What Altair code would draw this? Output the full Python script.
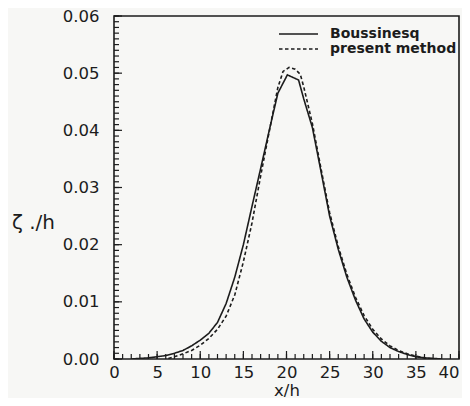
import altair as alt
import pandas as pd

# Boussinesq (solid)
x_bous = [2, 3, 4, 5, 6, 7, 8, 9, 10, 11, 12, 13, 14, 15, 16, 17, 18, 19, 20.1, 21.4, 22, 23, 24, 25,
          26, 27, 28, 29, 30, 31, 32, 33, 34, 35, 36, 37, 38]
y_bous = [0.0000, 0.0001, 0.0002, 0.0004, 0.0006, 0.0010, 0.0015, 0.0023, 0.0033, 0.0045, 0.0064,
          0.0097, 0.0143, 0.0200, 0.0267, 0.0333, 0.0400, 0.0465, 0.0497, 0.0488, 0.0455, 0.0405,
          0.0328, 0.0250, 0.0192, 0.0143, 0.0103, 0.0070, 0.0047, 0.0031, 0.0020, 0.0013, 0.0008,
          0.0004, 0.0002, 0.0001, 0.0000]

# present method (dashed)
x_pres = [6.3, 7, 8, 9, 10, 11, 12, 13, 14, 15, 16, 17, 18, 19, 19.6, 20.3, 21, 21.6, 22, 23, 24, 25,
          26, 27, 28, 29, 30, 31, 32, 33, 34, 35, 36, 37]
y_pres = [0.0001, 0.0004, 0.0009, 0.0015, 0.0024, 0.0036, 0.0052, 0.0075, 0.0112, 0.0170, 0.0238,
          0.0320, 0.0398, 0.0475, 0.0503, 0.0510, 0.0507, 0.0498, 0.0476, 0.0412, 0.0333, 0.0256,
          0.0197, 0.0148, 0.0108, 0.0076, 0.0052, 0.0035, 0.0023, 0.0015, 0.0009, 0.0005, 0.0002,
          0.0000]

series_names = ["Boussinesq", "present method"]
series_dash = [[1, 0], [3.5, 2.5]]
x_labels = [0, 5, 10, 15, 20, 25, 30, 35, 40]
y_labels = [0.00, 0.01, 0.02, 0.03, 0.04, 0.05, 0.06]
x_minor = list(range(0, 41))
y_minor = [i / 1000 for i in range(0, 61)]

W, H = 345, 343
INK = "#1c1c1c"
FONT = "DejaVu Sans"

df = pd.concat([
    pd.DataFrame({"x": x_bous, "y": y_bous, "s": series_names[0]}),
    pd.DataFrame({"x": x_pres, "y": y_pres, "s": series_names[1]}),
])

xs = alt.Scale(domain=[0, 40], nice=False, zero=False)
ys = alt.Scale(domain=[0, 0.06], nice=False, zero=False)

lines = alt.Chart(df).mark_line(color=INK, strokeWidth=1.6, clip=True).encode(
    x=alt.X("x:Q", scale=xs, axis=alt.Axis(
        values=x_labels, ticks=False, domain=False, grid=False, labelFontSize=16.5,
        labelFlush=False, labelPadding=5, labelColor=INK, labelFont=FONT,
        labelAlign={"condition": {"test": "datum.value == 40", "value": "right"}, "value": "center"},
        title="x/h", titleFont=FONT, titleFontSize=16.5, titleFontWeight="normal", titleColor=INK,
        titleBaseline="alphabetic", titleY=36)),
    y=alt.Y("y:Q", scale=ys, axis=alt.Axis(
        values=y_labels, format=".2f", ticks=False, domain=False, grid=False, labelFontSize=16.5,
        labelFlush=False, labelPadding=15, labelColor=INK, labelFont=FONT, title="ζ ./h",
        titleFont=FONT, titleFontSize=20, titleFontWeight="normal", titleColor=INK, titleAngle=0,
        titleX=-81, titleY=206, titleAlign="center", titleBaseline="middle")),
    strokeDash=alt.StrokeDash("s:N", scale=alt.Scale(domain=series_names, range=series_dash),
                              legend=None),
    order=alt.Order("x:Q"),
)

def tick_layer(vals, axis, length):
    d = pd.DataFrame({"v": vals})
    if axis == "x":
        return alt.Chart(d).mark_rule(color=INK, strokeWidth=1.2).encode(
            x=alt.X("v:Q", scale=xs), y=alt.value(H), y2=alt.value(H - length))
    return alt.Chart(d).mark_rule(color=INK, strokeWidth=1.2).encode(
        y=alt.Y("v:Q", scale=ys), x=alt.value(0), x2=alt.value(length))

legend_layers = []
for i, (name, dash) in enumerate(zip(series_names, series_dash)):
    d = pd.DataFrame({"name": [name]})
    ypos = 18 + 15 * i
    legend_layers.append(alt.Chart(d).mark_rule(color=INK, strokeWidth=1.6, strokeDash=dash).encode(
        x=alt.value(165), x2=alt.value(204), y=alt.value(ypos)))
    legend_layers.append(alt.Chart(d).mark_text(
        align="left", baseline="middle", font=FONT, fontSize=14, fontWeight="bold", color=INK).encode(
        x=alt.value(216), y=alt.value(ypos), text="name:N"))

chart = alt.layer(
    tick_layer(x_minor, "x", 5),
    tick_layer(x_labels, "x", 8),
    tick_layer(y_minor, "y", 5),
    tick_layer(y_labels, "y", 8),
    lines,
    *legend_layers,
).properties(
    width=W, height=H,
    autosize=alt.AutoSizeParams(type="none"),
    padding={"left": 106, "top": 8, "right": 3, "bottom": 39},
    background="#f7f7f5",
).configure_view(stroke=INK, strokeWidth=1.6)

chart.save("out.html", embed_options={"renderer": "svg", "actions": False})
